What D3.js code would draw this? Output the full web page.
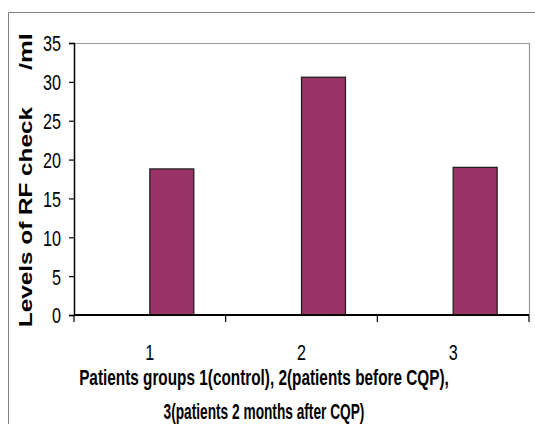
<!DOCTYPE html>
<html>
<head>
<meta charset="utf-8">
<script src="https://cdn.jsdelivr.net/npm/d3@7"></script>
<style>
  body { margin: 0; background: #fff; }
  svg text { fill: #000; }
</style>
</head>
<body>
<svg id="chart"></svg>
<script>
const groups = ['1', '2', '3'];
const levels = [18.8, 30.6, 19.0];
const yTicks = [0, 5, 10, 15, 20, 25, 30, 35];

const width = 535, height = 424;
const margin = { top: 43, right: 5, bottom: 109, left: 74 };
const font = '"Liberation Sans", Arial, sans-serif';

const svg = d3.select('#chart')
  .attr('width', width)
  .attr('height', height);

// squeeze a text horizontally so it looks like a narrow font
const squeeze = (sel, w) => sel.each(function (d, i) {
  const t = d3.select(this);
  const target = typeof w === 'function' ? w(d, i) : w;
  const k = target / this.getComputedTextLength();
  const tx = +t.attr('x') || 0;
  t.attr('transform', `translate(${tx},0) scale(${k},1) translate(${-tx},0)`);
});

// outer chart border (only left/top visible in the frame)
svg.append('path')
  .attr('d', `M8.5,${height} V12.5 H${width}`)
  .attr('fill', 'none')
  .attr('stroke', '#808080')
  .attr('stroke-width', 1);

const x = d3.scaleBand()
  .domain(groups)
  .range([margin.left, width - margin.right - 1]);

// two slots per group, the first one is empty (as in the original spreadsheet)
const barW = x.bandwidth() * 0.29;
const x1 = d3.scaleBand()
  .domain(['empty', 'value'])
  .range([x.bandwidth() / 2 - barW, x.bandwidth() / 2 + barW]);

const y = d3.scaleLinear()
  .domain([0, 35])
  .range([height - margin.bottom, margin.top]);

// plot area border, top and right
svg.append('path')
  .attr('d', `M${margin.left},${y(35) + 0.5} H${x.range()[1] + 0.5} V${y(0)}`)
  .attr('fill', 'none')
  .attr('stroke', '#999')
  .attr('stroke-width', 1.2);

svg.append('g')
  .selectAll('rect')
  .data(levels)
  .join('rect')
  .attr('x', (d, i) => x(groups[i]) + x1('value'))
  .attr('y', d => y(d))
  .attr('width', x1.bandwidth())
  .attr('height', d => y(0) - y(d))
  .attr('fill', '#993366')
  .attr('stroke', '#1a1a1a')
  .attr('stroke-width', 1.2);

// y axis
const yAxis = svg.append('g')
  .attr('transform', `translate(${margin.left},0)`)
  .call(d3.axisLeft(y).tickValues(yTicks).tickSize(5).tickPadding(8));
yAxis.select('.domain').attr('stroke-width', 1.5);
yAxis.selectAll('.tick line').attr('stroke-width', 1.2);
yAxis.selectAll('text')
  .attr('font-family', font)
  .attr('font-size', 22)
  .attr('dy', '0.36em')
  .call(squeeze, d => String(d).length * 9);

// x axis
const xAxis = svg.append('g')
  .attr('transform', `translate(0,${y(0)})`)
  .call(d3.axisBottom(x).tickSize(0).tickPadding(45));
xAxis.select('.domain').attr('stroke-width', 2).attr('d', `M${x.range()[0]},0H${x.range()[1]}`);
xAxis.selectAll('text')
  .attr('font-family', font)
  .attr('font-size', 22)
  .attr('dy', 0)
  .call(squeeze, 9);

// boundary ticks between categories
svg.append('g')
  .selectAll('line')
  .data(groups.concat(['end']))
  .join('line')
  .attr('x1', (d, i) => x.range()[0] + i * x.step())
  .attr('x2', (d, i) => x.range()[0] + i * x.step())
  .attr('y1', y(0))
  .attr('y2', y(0) + 7)
  .attr('stroke', '#000')
  .attr('stroke-width', 1.2);

// axis titles
const titleX = 264;
svg.append('text')
  .attr('x', titleX)
  .attr('y', 385)
  .attr('text-anchor', 'middle')
  .attr('font-family', font)
  .attr('font-weight', 'bold')
  .attr('font-size', 22)
  .text('Patients groups 1(control), 2(patients before  CQP),')
  .call(squeeze, 370);

svg.append('text')
  .attr('x', titleX)
  .attr('y', 419)
  .attr('text-anchor', 'middle')
  .attr('font-family', font)
  .attr('font-weight', 'bold')
  .attr('font-size', 22)
  .text('3(patients 2 months after CQP)')
  .call(squeeze, 201);

const yTitle = svg.append('g')
  .attr('transform', 'translate(32,0) rotate(-90)')
  .attr('font-family', font)
  .attr('font-weight', 'bold')
  .attr('font-size', 19);

yTitle.append('text')
  .attr('x', -327)
  .text('Levels of RF check')
  .call(squeeze, 220);

yTitle.append('text')
  .attr('x', -70)
  .text('/ml')
  .call(squeeze, 37);
</script>
</body>
</html>
